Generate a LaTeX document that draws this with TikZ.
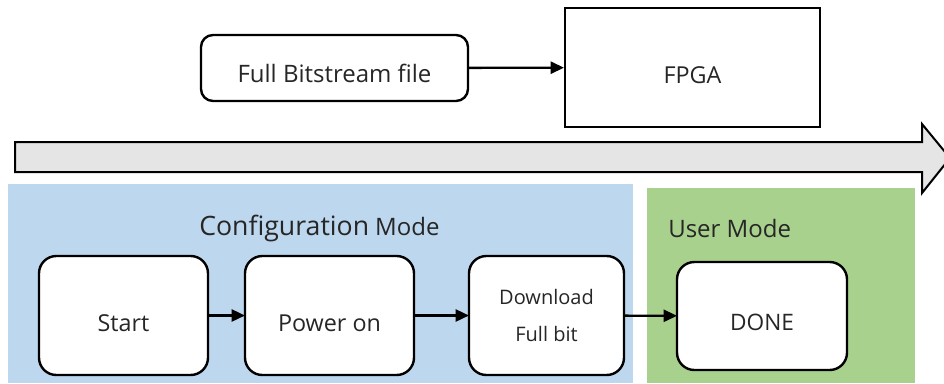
\documentclass[tikz,border=0pt]{standalone}
\usepackage{fontspec}
\setmainfont{Open Sans}
\usetikzlibrary{arrows.meta}
\definecolor{cfgblue}{HTML}{BDD7EE}
\definecolor{usrgreen}{HTML}{A9D18E}
\definecolor{bargray}{HTML}{E5E5E5}
\definecolor{txtgray}{HTML}{262626}
\tikzset{
  stepbox/.style={draw, line width=1.8pt, fill=white, rounded corners=13pt, inner sep=0pt, outer sep=0pt, text=txtgray, text height=22pt, text depth=0pt},
  flow/.style={line width=1.8pt, -{Triangle[length=10pt,width=9pt]}}
}
\begin{document}
\begin{tikzpicture}[x=0.75pt, y=-0.75pt, font=\fontsize{17.5}{20}\selectfont]
        \useasboundingbox (0,0) rectangle (944,383);

        % mode backgrounds
        \fill[cfgblue] (8,184) rectangle (633,383);
        \fill[usrgreen] (647,188) rectangle (915,383);

        % time bar
        \draw[line width=1.5pt, fill=bargray] (15,142) -- (922,142) -- (922,124) -- (950,158) -- (922,193) -- (922,172) -- (15,172) -- cycle;

        % top row
        \node[stepbox, rounded corners=9pt, minimum width=200.25pt, minimum height=49.5pt, font=\fontsize{18}{20}\selectfont] (bits) at (334.5,68) {Full Bitstream file};
        \node[draw, line width=1.5pt, fill=white, inner sep=0pt, text=txtgray, text height=24pt, text depth=0pt, minimum width=191.25pt, minimum height=89.25pt] (fpga) at (692.5,67.5) {FPGA};
        \draw[flow] (bits) -- (fpga);

        % mode titles
        \node[anchor=base west, inner sep=0pt, text=txtgray] (cfgtitle) at (199,235) {{\fontsize{20}{22}\selectfont Configuration} {\fontsize{18}{20}\selectfont Mode}};
        \node[anchor=base west, inner sep=0pt, text=txtgray, font=\fontsize{18}{20}\selectfont] (usrtitle) at (668,237) {User Mode};

        % bottom row
        \node[stepbox, minimum width=126.75pt, minimum height=89.25pt, text height=24pt] (start) at (123.5,315.5) {Start};
        \node[stepbox, minimum width=126.75pt, minimum height=89.25pt, text height=24pt] (power) at (329.5,315.5) {Power on};
        \node[stepbox, minimum width=116.25pt, minimum height=89.25pt, align=center, text height=, text depth=, font=\fontsize{15}{27.75}\selectfont] (dload) at (546.5,315.5) {Download\\Full bit};
        \node[stepbox, minimum width=127.5pt, minimum height=81pt, font=\fontsize{17}{20}\selectfont] (done) at (762,316) {DONE};

        \draw[flow] (start) -- (power);
        \draw[flow] (power) -- (dload);
        \draw[flow] (dload) -- (done);
    \end{tikzpicture}
\end{document}
